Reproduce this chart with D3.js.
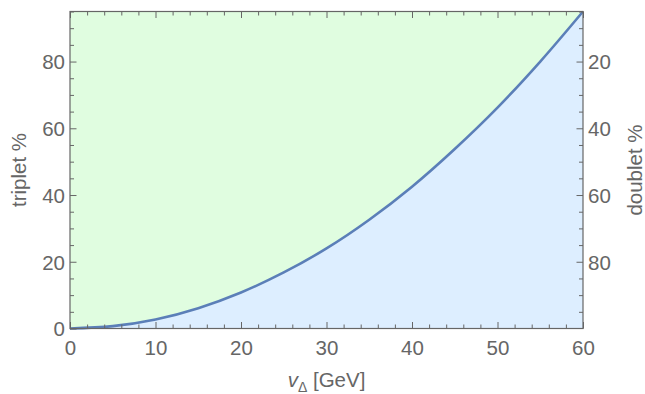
<!DOCTYPE html>
<html>
<head>
<meta charset="utf-8">
<script src="https://cdn.jsdelivr.net/npm/d3@7"></script>
<style>
  html, body { margin: 0; padding: 0; background: #fff; }
  svg { display: block; font-family: "Liberation Sans", Arial, sans-serif; }
</style>
</head>
<body>
<svg id="chart" width="645" height="394"></svg>
<script>
// Triplet vev v_Δ (GeV) and the triplet share of the total (%)
const vDelta  = [0, 5, 10, 15, 20, 25, 30, 35, 40, 45, 50, 55, 60];
const triplet = [0, 0.7, 2.7, 6.1, 10.8, 16.8, 24.0, 32.6, 42.5, 53.8, 66.2, 80.0, 95.0];

const xMajor = [0, 10, 20, 30, 40, 50, 60];
const yMajor = [0, 20, 40, 60, 80];
const doubletMajor = [20, 40, 60, 80];

const W = 645, H = 394;
const m = { left: 70, right: 62, top: 11.5, bottom: 65.5 };
const pw = W - m.left - m.right, ph = H - m.top - m.bottom;

const svg = d3.select("#chart");
const g = svg.append("g").attr("transform", `translate(${m.left},${m.top})`);

const x = d3.scaleLinear().domain([0, 60]).range([0, pw]);
const y = d3.scaleLinear().domain([0, 95]).range([ph, 0]);
// doublet share = 100 - triplet share
const yD = d3.scaleLinear().domain([100, 5]).range([ph, 0]);

const pts = vDelta.map((v, i) => [v, triplet[i]]);
const curve = d3.curveMonotoneX;

// upper region (triplet side) and lower region (doublet side)
g.append("path")
  .attr("d", d3.area().x(d => x(d[0])).y0(0).y1(d => y(d[1])).curve(curve)(pts))
  .attr("fill", "#e0fde0");
g.append("path")
  .attr("d", d3.area().x(d => x(d[0])).y0(ph).y1(d => y(d[1])).curve(curve)(pts))
  .attr("fill", "#ddeeff");

g.append("path")
  .attr("d", d3.line().x(d => x(d[0])).y(d => y(d[1])).curve(curve)(pts))
  .attr("fill", "none")
  .attr("stroke", "#5b7fb8")
  .attr("stroke-width", 2.6);

const axisColor = "#666";
const textColor = "#666";
const fontSize = "20.5px";

function style(sel) {
  sel.select(".domain").remove();
  sel.selectAll(".tick line").attr("stroke", axisColor).attr("stroke-width", 1);
  sel.selectAll(".tick text").attr("fill", textColor).style("font-size", fontSize)
     .style("font-family", "'Liberation Sans', Arial, sans-serif");
}

const minorX = d3.range(0, 61, 2).filter(v => v % 10 !== 0);
const minorY = d3.range(5, 95, 5).filter(v => v % 20 !== 0).concat([95]);
const minorD = d3.range(5, 100, 5).filter(v => v % 20 !== 0);

// bottom axis
g.append("g").attr("transform", `translate(0,${ph})`)
  .call(d3.axisBottom(x).tickValues(xMajor).tickSizeInner(-6.5).tickSizeOuter(0).tickPadding(0))
  .call(style)
  .call(s => s.selectAll(".tick text").attr("y", 26.5).attr("dy", null));
g.append("g").attr("transform", `translate(0,${ph})`)
  .call(d3.axisBottom(x).tickValues(minorX).tickSizeInner(-4).tickSizeOuter(0).tickFormat(""))
  .call(style);

// top axis (ticks only)
g.append("g")
  .call(d3.axisTop(x).tickValues(xMajor).tickSizeInner(-6.5).tickSizeOuter(0).tickFormat(""))
  .call(style);
g.append("g")
  .call(d3.axisTop(x).tickValues(minorX).tickSizeInner(-4).tickSizeOuter(0).tickFormat(""))
  .call(style);

// left axis: triplet %
g.append("g")
  .call(d3.axisLeft(y).tickValues(yMajor).tickSizeInner(-6.5).tickSizeOuter(0).tickPadding(5))
  .call(style)
  .call(s => s.selectAll(".tick text").attr("dy", "0.36em"));
g.append("g")
  .call(d3.axisLeft(y).tickValues(minorY).tickSizeInner(-4).tickSizeOuter(0).tickFormat(""))
  .call(style);

// right axis: doublet %
g.append("g").attr("transform", `translate(${pw},0)`)
  .call(d3.axisRight(yD).tickValues(doubletMajor).tickSizeInner(-6.5).tickSizeOuter(0).tickPadding(5))
  .call(style)
  .call(s => s.selectAll(".tick text").attr("dy", "0.36em"));
g.append("g").attr("transform", `translate(${pw},0)`)
  .call(d3.axisRight(yD).tickValues(minorD).tickSizeInner(-4).tickSizeOuter(0).tickFormat(""))
  .call(style);

// frame
g.append("rect").attr("x", 0).attr("y", 0).attr("width", pw).attr("height", ph)
  .attr("fill", "none").attr("stroke", axisColor).attr("stroke-width", 1.2);

// axis titles
svg.append("text")
  .attr("transform", `translate(26,${m.top + ph / 2}) rotate(-90)`)
  .attr("text-anchor", "middle")
  .attr("fill", textColor).style("font-size", fontSize)
  .text("triplet %");

svg.append("text")
  .attr("transform", `translate(642,${m.top + ph / 2}) rotate(-90)`)
  .attr("text-anchor", "middle")
  .attr("fill", textColor).style("font-size", fontSize)
  .text("doublet %");

const xt = svg.append("text")
  .attr("x", m.left + pw / 2).attr("y", 387)
  .attr("text-anchor", "middle")
  .attr("fill", textColor).style("font-size", fontSize);
xt.append("tspan").style("font-style", "italic").text("v");
xt.append("tspan").attr("dy", 5).style("font-size", "14px").text("Δ");
xt.append("tspan").attr("dy", -5).text(" [GeV]");
</script>
</body>
</html>
